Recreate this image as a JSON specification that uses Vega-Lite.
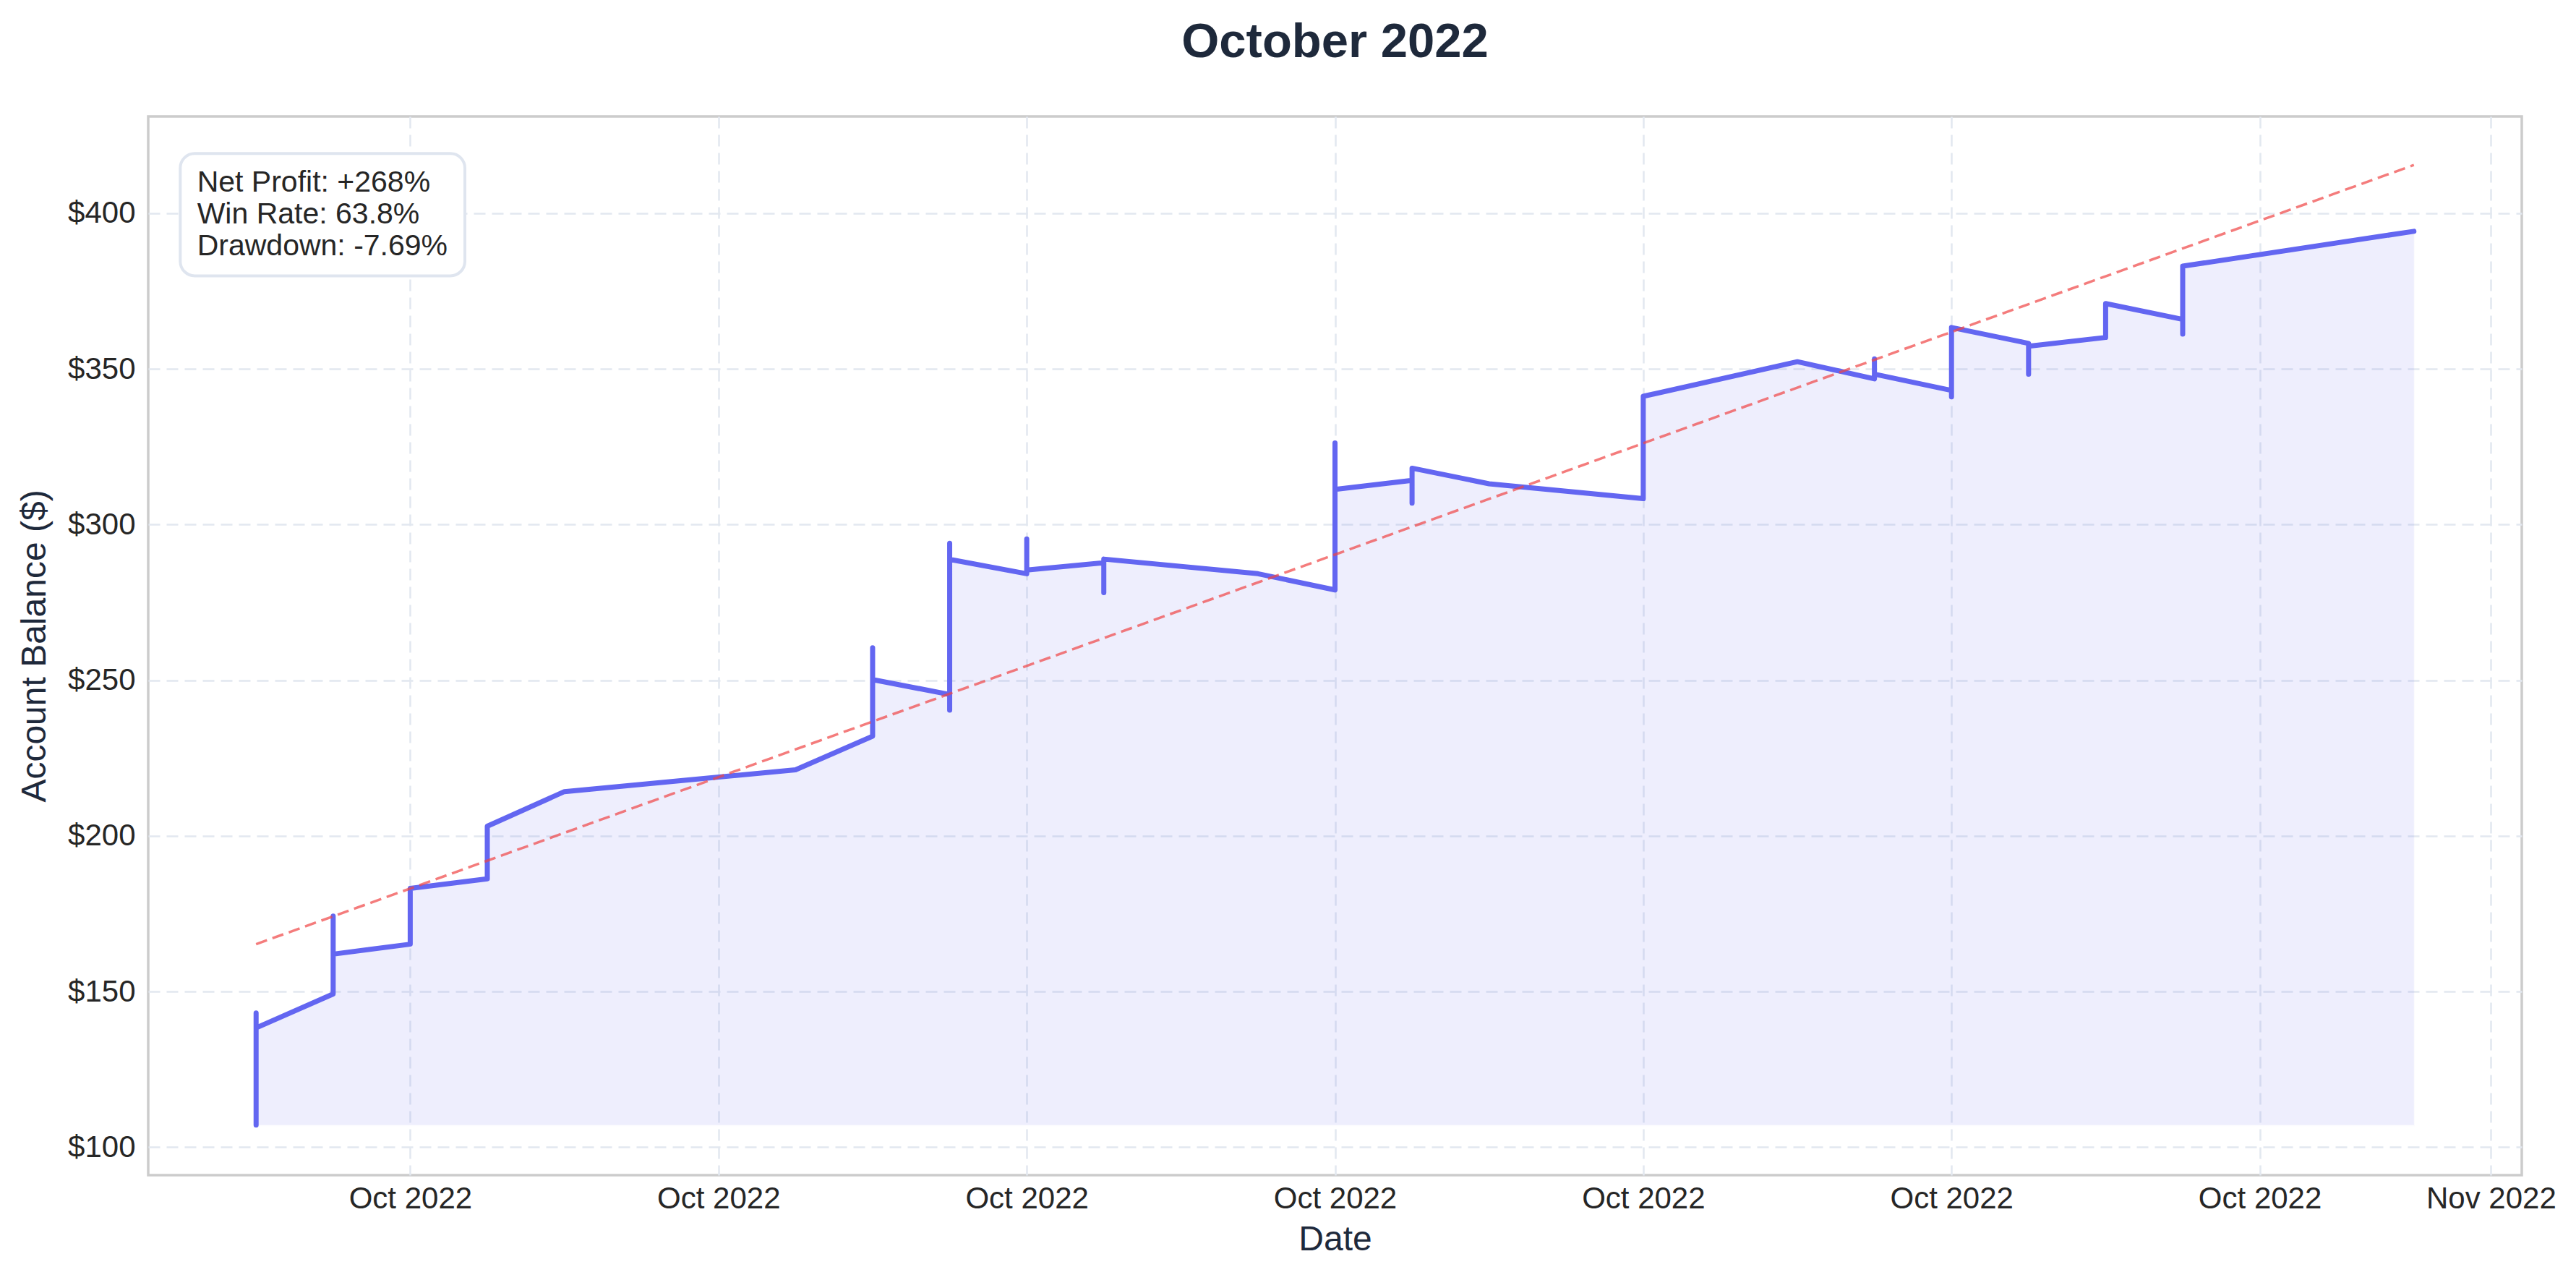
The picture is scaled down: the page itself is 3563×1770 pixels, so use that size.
{
  "$schema": "https://vega.github.io/schema/vega-lite/v6.json",
  "width": 3283,
  "height": 1464,
  "autosize": {"type": "none"},
  "padding": {"left": 205, "top": 161, "right": 75, "bottom": 145},
  "background": "white",
  "title": {
    "text": "October 2022",
    "fontSize": 67,
    "font": "Liberation Sans",
    "fontWeight": "bold",
    "color": "#1e293b",
    "anchor": "middle",
    "baseline": "alphabetic",
    "offset": 15
  },
  "config": {
    "view": {"stroke": "#cccccc", "strokeWidth": 3.5},
    "axis": {
      "grid": true,
      "gridColor": "#e2e8f0",
      "gridWidth": 2.5,
      "gridDash": [16, 9],
      "domain": false,
      "ticks": false,
      "labelFont": "Liberation Sans",
      "labelFontSize": 42,
      "labelColor": "#262626",
      "titleFont": "Liberation Sans",
      "titleFontSize": 48,
      "titleColor": "#1e293b",
      "titleFontWeight": "normal"
    },
    "axisX": {"labelPadding": 12, "titlePadding": 12, "labelFlush": false, "labelOverlap": false},
    "axisY": {"labelPadding": 18, "titlePadding": 21}
  },
  "datasets": {
    "balance": [
      {"i": 0, "date": "2022-10-03T00:00:00", "balance": 107.07},
      {"i": 1, "date": "2022-10-03T00:00:00", "balance": 143.1},
      {"i": 2, "date": "2022-10-03T00:00:00", "balance": 138.3},
      {"i": 3, "date": "2022-10-04T00:00:00", "balance": 149.2},
      {"i": 4, "date": "2022-10-04T00:00:00", "balance": 174.2},
      {"i": 5, "date": "2022-10-04T00:00:00", "balance": 162.0},
      {"i": 6, "date": "2022-10-05T00:00:00", "balance": 165.2},
      {"i": 7, "date": "2022-10-05T00:00:00", "balance": 183.1},
      {"i": 8, "date": "2022-10-06T00:00:00", "balance": 186.2},
      {"i": 9, "date": "2022-10-06T00:00:00", "balance": 203.1},
      {"i": 10, "date": "2022-10-07T00:00:00", "balance": 214.2},
      {"i": 11, "date": "2022-10-10T00:00:00", "balance": 221.2},
      {"i": 12, "date": "2022-10-11T00:00:00", "balance": 232.0},
      {"i": 13, "date": "2022-10-11T00:00:00", "balance": 260.4},
      {"i": 14, "date": "2022-10-11T00:00:00", "balance": 250.2},
      {"i": 15, "date": "2022-10-12T00:00:00", "balance": 245.4},
      {"i": 16, "date": "2022-10-12T00:00:00", "balance": 240.4},
      {"i": 17, "date": "2022-10-12T00:00:00", "balance": 294.0},
      {"i": 18, "date": "2022-10-12T00:00:00", "balance": 288.8},
      {"i": 19, "date": "2022-10-13T00:00:00", "balance": 284.2},
      {"i": 20, "date": "2022-10-13T00:00:00", "balance": 295.4},
      {"i": 21, "date": "2022-10-13T00:00:00", "balance": 285.4},
      {"i": 22, "date": "2022-10-14T00:00:00", "balance": 287.7},
      {"i": 23, "date": "2022-10-14T00:00:00", "balance": 278.1},
      {"i": 24, "date": "2022-10-14T00:00:00", "balance": 288.9},
      {"i": 25, "date": "2022-10-16T00:00:00", "balance": 284.2},
      {"i": 26, "date": "2022-10-17T00:00:00", "balance": 279.0},
      {"i": 27, "date": "2022-10-17T00:00:00", "balance": 326.2},
      {"i": 28, "date": "2022-10-17T00:00:00", "balance": 311.3},
      {"i": 29, "date": "2022-10-18T00:00:00", "balance": 314.2},
      {"i": 30, "date": "2022-10-18T00:00:00", "balance": 306.9},
      {"i": 31, "date": "2022-10-18T00:00:00", "balance": 318.1},
      {"i": 32, "date": "2022-10-19T00:00:00", "balance": 313.1},
      {"i": 33, "date": "2022-10-21T00:00:00", "balance": 308.3},
      {"i": 34, "date": "2022-10-21T00:00:00", "balance": 341.2},
      {"i": 35, "date": "2022-10-23T00:00:00", "balance": 352.3},
      {"i": 36, "date": "2022-10-24T00:00:00", "balance": 346.8},
      {"i": 37, "date": "2022-10-24T00:00:00", "balance": 353.2},
      {"i": 38, "date": "2022-10-24T00:00:00", "balance": 348.3},
      {"i": 39, "date": "2022-10-25T00:00:00", "balance": 343.1},
      {"i": 40, "date": "2022-10-25T00:00:00", "balance": 341.0},
      {"i": 41, "date": "2022-10-25T00:00:00", "balance": 363.3},
      {"i": 42, "date": "2022-10-26T00:00:00", "balance": 358.2},
      {"i": 43, "date": "2022-10-26T00:00:00", "balance": 348.3},
      {"i": 44, "date": "2022-10-26T00:00:00", "balance": 357.3},
      {"i": 45, "date": "2022-10-27T00:00:00", "balance": 360.1},
      {"i": 46, "date": "2022-10-27T00:00:00", "balance": 371.0},
      {"i": 47, "date": "2022-10-28T00:00:00", "balance": 365.9},
      {"i": 48, "date": "2022-10-28T00:00:00", "balance": 361.2},
      {"i": 49, "date": "2022-10-28T00:00:00", "balance": 383.0},
      {"i": 50, "date": "2022-10-31T00:00:00", "balance": 394.2}
    ],
    "trend": [
      {"date": "2022-10-03T00:00:00", "balance": 165.2},
      {"date": "2022-10-31T00:00:00", "balance": 415.5}
    ]
  },
  "layer": [
    {
      "data": {"name": "balance"},
      "mark": {"type": "area", "color": "#6366f1", "opacity": 0.1, "stroke": "#6366f1", "strokeOpacity": 0.12, "strokeWidth": 3},
      "encoding": {
        "x": {
          "field": "date", "type": "temporal", "title": "Date",
          "scale": {"domain": [{"year": 2022, "month": 10, "date": 1, "hours": 14, "minutes": 24}, {"year": 2022, "month": 11, "date": 1, "hours": 9, "minutes": 36}]},
          "axis": {
            "values": [
              {"year": 2022, "month": 10, "date": 5},
              {"year": 2022, "month": 10, "date": 9},
              {"year": 2022, "month": 10, "date": 13},
              {"year": 2022, "month": 10, "date": 17},
              {"year": 2022, "month": 10, "date": 21},
              {"year": 2022, "month": 10, "date": 25},
              {"year": 2022, "month": 10, "date": 29},
              {"year": 2022, "month": 11, "date": 1}
            ],
            "format": "%b %Y"
          }
        },
        "y": {
          "field": "balance", "type": "quantitative", "title": "Account Balance ($)",
          "scale": {"domain": [91.0, 431.1], "nice": false, "zero": false},
          "axis": {"values": [100, 150, 200, 250, 300, 350, 400], "format": "$.0f"}
        },
        "y2": {"datum": 107.07}
      }
    },
    {
      "data": {"name": "balance"},
      "mark": {"type": "line", "color": "#6366f1", "strokeWidth": 7, "strokeCap": "round", "strokeJoin": "round"},
      "encoding": {
        "x": {"field": "date", "type": "temporal", "title": "Date"},
        "y": {"field": "balance", "type": "quantitative", "title": "Account Balance ($)"},
        "order": {"field": "i", "type": "quantitative"}
      }
    },
    {
      "data": {"name": "trend"},
      "mark": {"type": "line", "color": "#ef4444", "opacity": 0.7, "strokeWidth": 3.5, "strokeDash": [16, 8]},
      "encoding": {
        "x": {"field": "date", "type": "temporal", "title": "Date"},
        "y": {"field": "balance", "type": "quantitative", "title": "Account Balance ($)"}
      }
    },
    {
      "data": {"values": [{}]},
      "mark": {"type": "rect", "fill": "white", "stroke": "#dfe5ef", "strokeWidth": 4, "cornerRadius": 20},
      "encoding": {
        "x": {"datum": {"year": 2022, "month": 10, "date": 2, "hours": 0, "minutes": 23}, "type": "temporal", "title": "Date"},
        "x2": {"datum": {"year": 2022, "month": 10, "date": 5, "hours": 17, "minutes": 1}},
        "y": {"datum": 419.2, "type": "quantitative", "title": "Account Balance ($)"},
        "y2": {"datum": 379.9}
      }
    },
    {
      "data": {"values": [{}]},
      "mark": {"type": "text", "align": "left", "baseline": "top", "font": "Liberation Sans", "fontSize": 41, "lineHeight": 44, "color": "#262626"},
      "encoding": {
        "x": {"datum": {"year": 2022, "month": 10, "date": 2, "hours": 5, "minutes": 38}, "type": "temporal", "title": "Date"},
        "y": {"datum": 414.4, "type": "quantitative", "title": "Account Balance ($)"},
        "text": {"value": ["Net Profit: +268%", "Win Rate: 63.8%", "Drawdown: -7.69%"]}
      }
    }
  ]
}
